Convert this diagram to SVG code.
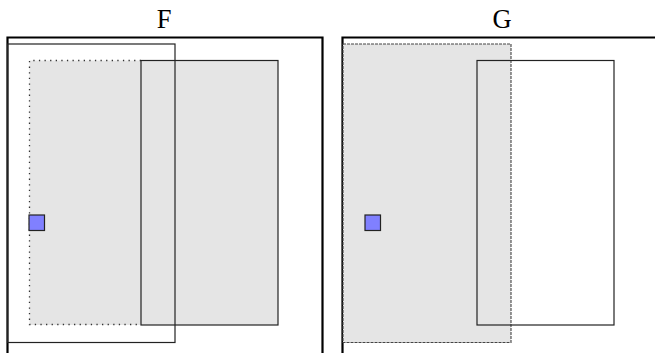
<svg xmlns="http://www.w3.org/2000/svg" width="655" height="353" viewBox="0 0 655 353">
<style>
.lbl{font-family:"Liberation Serif","DejaVu Serif",serif;font-size:26.5px;fill:#000;text-anchor:middle}
.frame{fill:none;stroke:#000;stroke-width:2.2}
.thin{fill:none;stroke:#222;stroke-width:1.2}
.gray{fill:#e5e5e5}
.blue{fill:#8080ff;stroke:#222;stroke-width:1.2}
</style>
<rect width="655" height="353" fill="#fff"/>
<g id="panelF">
  <text class="lbl" x="164" y="27.5">F</text>
  <polyline class="frame" points="7.5,353 7.5,37.5 322.5,37.5 322.5,353"/>
  <g id="F-gray"><rect class="gray" x="29.5" y="60.5" width="248.5" height="264.5"/>
    <polyline points="141,60.5 29.5,60.5 29.5,324.5 141,324.5" fill="none" stroke="#333" stroke-width="1.3" stroke-dasharray="1.3,4.3"/></g>
  <g id="F-solid"><rect class="thin" x="141" y="60.5" width="137" height="264.5"/></g>
  <g id="F-outline"><rect class="thin" x="7.5" y="44" width="167.5" height="298.5"/></g>
  <g id="F-square"><rect class="blue" x="29" y="215" width="15.5" height="15.5"/></g>
</g>
<g id="panelG">
  <text class="lbl" x="502" y="27.5">G</text>
  <polyline class="frame" points="342.5,353 342.5,37.5 655,37.5"/>
  <g id="G-gray"><rect class="gray" x="343" y="44" width="168" height="298.5"/>
    <rect x="343" y="44" width="168" height="298.5" fill="none" stroke="#444" stroke-width="1.1" stroke-dasharray="3,1"/></g>
  <g id="G-outline"><rect class="thin" x="477" y="60.5" width="137" height="264.5"/></g>
  <g id="G-square"><rect class="blue" x="365" y="215" width="15.5" height="15.5"/></g>
</g>
<g id="connectors"/>
</svg>
